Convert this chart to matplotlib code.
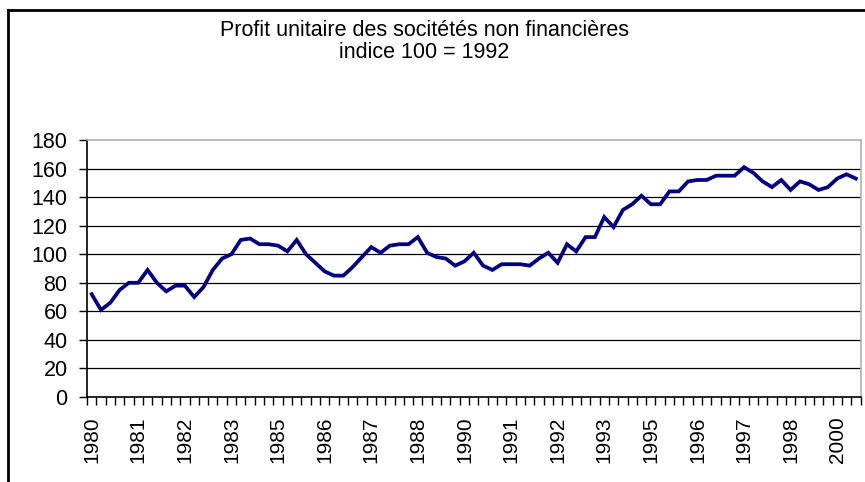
import numpy as np
import matplotlib
matplotlib.use("Agg")
import matplotlib.pyplot as plt
from matplotlib.lines import Line2D

plt.rcParams['font.family'] = ['Liberation Sans', 'DejaVu Sans']

# Profit unitaire, trimestriel, 1980T1 - 2000T3 (indice 100 = 1992)
profit = [72, 61, 66, 75, 80, 80, 89, 80, 74, 78,
          78, 70, 77, 89, 97, 100, 110, 111, 107, 107,
          106, 102, 110, 100, 94, 88, 85, 85, 91, 98,
          105, 101, 106, 107, 107, 112, 101, 98, 97, 92,
          95, 101, 92, 89, 93, 93, 93, 92, 97, 101,
          94, 107, 102, 112, 112, 126, 119, 131, 135, 141,
          135, 135, 144, 144, 151, 152, 152, 155, 155, 155,
          161, 157, 151, 147, 152, 145, 151, 149, 145, 147,
          153, 156, 153]

# one label every 5 quarters
label_step = 5
tick_labels = ['1980', '1981', '1982', '1983', '1985', '1986', '1987', '1988',
               '1990', '1991', '1992', '1993', '1995', '1996', '1997', '1998',
               '2000']
y_ticks = [0, 20, 40, 60, 80, 100, 120, 140, 160, 180]

W, H = 865, 482
fig = plt.figure(figsize=(W / 100, H / 100), dpi=100)
fig.patch.set_facecolor('white')

# outer chart frame (only left and top visible)
fig.add_artist(Line2D([8 / W, 8 / W], [0, 1 - 10 / H], color='black', lw=2,
                      transform=fig.transFigure))
fig.add_artist(Line2D([8 / W, 1], [1 - 10 / H, 1 - 10 / H], color='black', lw=2,
                      transform=fig.transFigure))

left, right, top, bottom = 87, 860.5, 140, 397
ax = fig.add_axes([left / W, 1 - bottom / H, (right - left) / W, (bottom - top) / H])

x = np.arange(len(profit))
for v in y_ticks[1:-1]:
    ax.axhline(v, color='black', lw=0.9, zorder=1)
ax.plot(x, profit, color='#000080', lw=2.7, solid_joinstyle='miter', zorder=3)

ax.set_xlim(-0.5, len(profit) - 0.5)
ax.set_ylim(0, 180)

ax.set_yticks(y_ticks)
ax.set_yticklabels([str(v) for v in y_ticks])
ax.tick_params(axis='y', direction='out', length=6, width=1, pad=8, labelsize=15.5)

# tick marks between categories
ax.set_xticks(np.arange(-0.5, len(profit), 1))
ax.set_xticklabels([])
ax.tick_params(axis='x', which='major', direction='out', length=6, width=1)
ax.set_xticks(np.arange(0, len(profit), label_step)[:len(tick_labels)], minor=True)
ax.set_xticklabels(tick_labels, minor=True, rotation=90, fontsize=15)
ax.tick_params(axis='x', which='minor', length=0, pad=14)

for s in ['left', 'bottom']:
    ax.spines[s].set_color('black')
    ax.spines[s].set_linewidth(1.2)
for s in ['top', 'right']:
    ax.spines[s].set_color('#b0b0b0')
    ax.spines[s].set_linewidth(1.2)

fig.text(424 / W, 1 - 36.5 / H, 'Profit unitaire des socitétés non financières',
         ha='center', va='baseline', fontsize=15.5)
fig.text(424 / W, 1 - 57.5 / H, 'indice 100 = 1992', ha='center', va='baseline', fontsize=15.5)

fig.savefig('out.png', dpi=100)
